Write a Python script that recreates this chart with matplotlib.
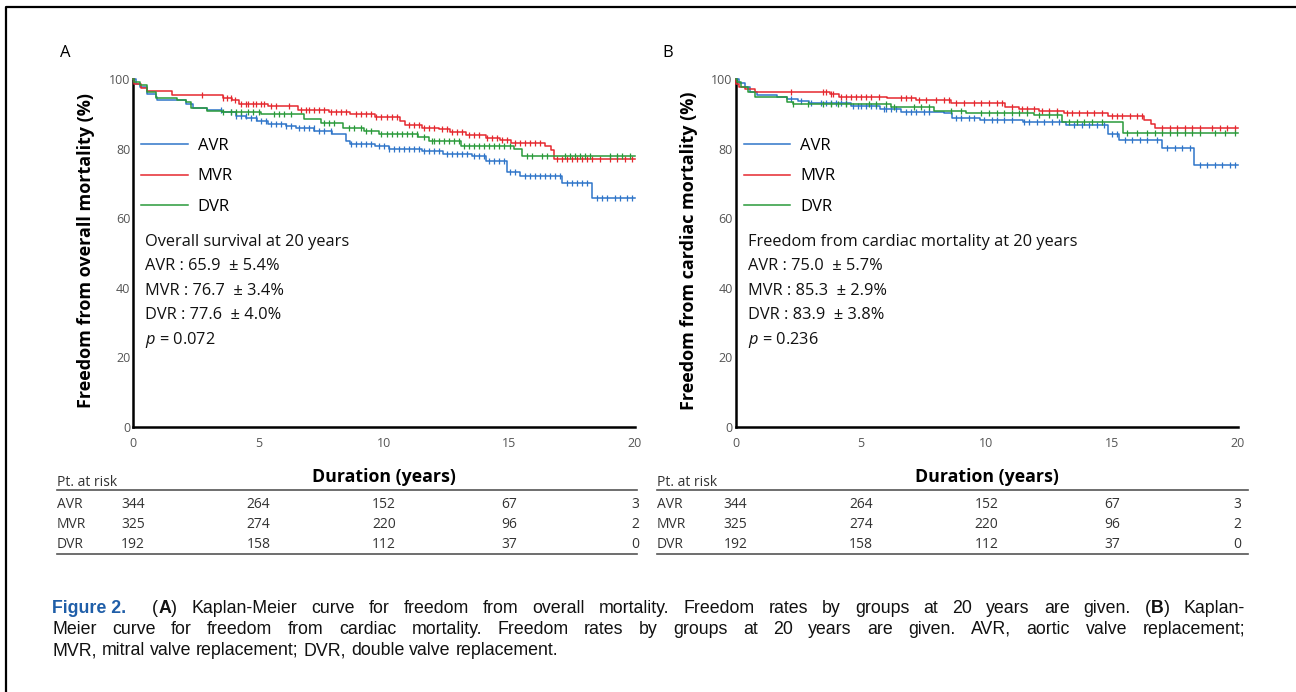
import matplotlib.pyplot as plt
import matplotlib.transforms as mtransforms
from matplotlib.lines import Line2D
import numpy as np

plt.rcParams['font.family'] = ['Open Sans', 'DejaVu Sans']
plt.rcParams['mathtext.fontset'] = 'custom'
plt.rcParams['mathtext.rm'] = 'Open Sans'
plt.rcParams['mathtext.it'] = 'Open Sans:italic'

W, H = 1296, 692

groups = ['AVR', 'MVR', 'DVR']
colors = ['#2f75c9', '#e5282f', '#2a9a3a']

# ---- panel A : freedom from overall mortality (step times in years, %) ----
a_avr_t = [0, 0.11, 0.26, 0.54, 0.9, 0.97, 2.1, 2.39, 2.96, 3.53, 4.1, 4.52, 4.95, 5.38, 6.09,
           6.51, 7.22, 7.94, 8.5, 8.65, 9.64, 10.2, 11.5, 12.35, 13.5, 14.05, 14.9, 15.4, 17.1, 18.3]
a_avr_s = [100, 98.7, 97.8, 95.8, 94.8, 93.9, 92.9, 91.7, 91.1, 90.4, 89.5, 88.8, 88.0, 87.2, 86.5,
           86.0, 85.1, 84.1, 82.1, 81.4, 80.7, 80.0, 79.2, 78.4, 77.8, 76.3, 73.4, 72.2, 70.1, 65.9]
a_avr_c = [3.5, 3.9, 4.1, 4.3, 4.5, 4.7, 4.9, 5.1, 5.3, 5.5, 5.7, 5.9, 6.1, 6.3, 6.6, 6.8, 7.0, 7.2,
           7.4, 7.6, 7.9, 8.7, 8.9, 9.1, 9.3, 9.5, 9.8, 10.0, 10.2, 10.4, 10.6, 10.8, 11.0, 11.2,
           11.4, 11.6, 11.8, 12.0, 12.2, 12.5, 12.7, 12.9, 13.1, 13.3, 13.6, 13.8, 14.0, 14.2, 14.4,
           14.6, 14.8, 15.0, 15.2, 15.6, 15.8, 16.0, 16.2, 16.4, 16.6, 16.8, 17.0, 17.3, 17.5, 17.7,
           17.9, 18.1, 18.5, 18.7, 18.9, 19.2, 19.4, 19.7, 19.9]

a_mvr_t = [0, 0.03, 0.3, 0.54, 1.54, 3.6, 3.95, 4.24, 5.38, 6.59, 7.8, 8.65, 9.64, 10.64, 10.85,
           11.5, 12.2, 12.63, 13.27, 14.05, 14.62, 15.05, 16.4, 16.64, 16.76]
a_mvr_s = [100, 98.5, 97.4, 96.6, 95.5, 94.6, 93.9, 92.9, 92.1, 91.2, 90.4, 90.0, 89.2, 88.0, 86.8,
           86.0, 85.6, 84.9, 83.9, 83.1, 82.4, 81.7, 80.7, 79.7, 76.9]
a_mvr_c = [2.75, 3.6, 3.75, 3.9, 4.05, 4.3, 4.5, 4.6, 4.8, 4.9, 5.1, 5.2, 5.5, 5.7, 6.2, 6.7, 6.9,
           7.0, 7.2, 7.4, 7.6, 7.9, 8.1, 8.3, 8.5, 8.9, 9.1, 9.3, 9.5, 9.7, 9.9, 10.1, 10.3, 10.5,
           11.0, 11.2, 11.4, 11.6, 11.8, 12.0, 12.3, 12.5, 12.7, 12.9, 13.1, 13.4, 13.6, 13.8, 14.1,
           14.3, 14.5, 14.7, 14.9, 15.2, 15.4, 15.6, 15.8, 16.0, 16.2, 16.9, 17.1, 17.3, 17.5, 17.7,
           17.9, 18.1, 18.3, 18.6, 19.0, 19.3, 19.6, 19.9]

a_dvr_t = [0, 0.05, 0.26, 0.54, 0.9, 1.75, 2.1, 2.32, 2.96, 3.53, 5.09, 6.8, 7.5, 8.36, 9.22, 9.79,
           11.35, 11.78, 13.06, 15.19, 15.48]
a_dvr_s = [100, 99.0, 98.2, 96.3, 94.6, 94.0, 93.3, 91.7, 90.9, 90.4, 89.8, 88.5, 87.5, 86.0, 85.1,
           84.3, 83.3, 82.1, 80.7, 80.0, 77.9]
a_dvr_c = [3.6, 3.9, 4.1, 4.3, 4.6, 4.8, 5.0, 5.6, 5.8, 6.0, 6.3, 7.6, 7.8, 8.0, 8.6, 8.8, 9.1, 9.3,
           9.5, 9.9, 10.1, 10.3, 10.5, 10.7, 10.9, 11.1, 11.3, 11.6, 11.9, 12.0, 12.2, 12.4, 12.6,
           12.8, 13.0, 13.2, 13.4, 13.6, 13.8, 14.0, 14.2, 14.4, 14.6, 14.8, 15.0, 15.7, 15.9, 16.3,
           16.5, 17.2, 17.4, 17.6, 17.8, 18.0, 18.2, 19.0, 19.3, 19.5, 19.8]

# ---- panel B : freedom from cardiac mortality ----
b_avr_t = [0, 0.14, 0.36, 0.57, 0.85, 1.64, 2.06, 2.49, 2.92, 4.62, 5.76, 6.61, 8.32, 8.61, 9.74,
           11.45, 13.16, 14.86, 15.29, 17.0, 18.28]
b_avr_s = [100, 98.8, 97.8, 96.3, 95.4, 94.7, 94.2, 93.8, 93.2, 92.2, 91.5, 90.6, 90.1, 88.9, 88.2,
           87.7, 86.7, 84.1, 82.6, 80.3, 75.3]
b_avr_c = [2.2, 2.6, 3.0, 3.4, 3.6, 3.8, 4.0, 4.2, 4.4, 4.7, 4.9, 5.0, 5.2, 5.4, 5.6, 5.9, 6.0, 6.2,
           6.4, 6.8, 7.0, 7.2, 7.5, 7.7, 8.8, 9.0, 9.3, 9.5, 9.9, 10.2, 10.4, 10.7, 11.0, 11.5, 11.7,
           12.0, 12.3, 12.6, 12.9, 13.5, 13.8, 14.1, 14.4, 14.7, 15.0, 15.2, 15.5, 15.8, 16.1, 16.4,
           16.8, 17.2, 17.5, 17.8, 18.1, 18.5, 18.8, 19.1, 19.4, 19.7, 19.9]

b_mvr_t = [0, 0.03, 0.14, 0.36, 0.78, 3.77, 4.13, 6.05, 7.18, 8.6, 10.74, 11.3, 12.09, 13.09, 14.86,
           16.29, 16.57, 16.71]
b_mvr_s = [100, 98.6, 97.8, 97.0, 96.3, 95.6, 94.9, 94.4, 93.9, 93.2, 92.0, 91.3, 90.8, 90.1, 89.3,
           88.2, 87.2, 86.0]
b_mvr_c = [2.2, 3.5, 3.6, 3.8, 3.9, 4.2, 4.4, 4.6, 4.8, 5.0, 5.2, 5.4, 5.7, 6.6, 6.8, 7.0, 7.3, 7.6,
           8.0, 8.3, 8.5, 8.8, 9.1, 9.5, 9.8, 10.1, 10.4, 10.6, 11.0, 11.4, 11.6, 11.9, 12.2, 12.5,
           12.8, 13.2, 13.4, 13.7, 14.0, 14.3, 14.6, 15.0, 15.2, 15.4, 15.7, 16.0, 16.2, 17.0, 17.3,
           17.6, 17.9, 18.2, 18.5, 19.0, 19.3, 19.6, 19.9]

b_dvr_t = [0, 0.05, 0.21, 0.5, 0.78, 2.06, 2.28, 6.19, 7.89, 9.17, 11.88, 13.02, 15.43]
b_dvr_s = [100, 99.0, 97.8, 96.3, 94.7, 93.5, 92.8, 92.0, 90.9, 90.3, 89.6, 87.7, 84.6]
b_dvr_c = [2.3, 2.9, 3.5, 3.8, 4.1, 4.4, 5.3, 5.6, 6.0, 6.3, 7.1, 7.4, 7.7, 8.6, 9.0, 9.8, 10.1,
           10.4, 10.7, 11.0, 11.3, 11.6, 12.1, 12.5, 12.8, 13.3, 13.6, 13.9, 14.2, 14.6, 15.6, 16.0,
           16.4, 16.7, 17.0, 17.3, 17.6, 17.9, 18.2, 18.5, 19.1, 19.5, 19.9]

a_title = 'Overall survival at 20 years'
a_rates = ['AVR : 65.9  \u00b1 5.4%', 'MVR : 76.7  \u00b1 3.4%', 'DVR : 77.6  \u00b1 4.0%']
a_p = '0.072'
b_title = 'Freedom from cardiac mortality at 20 years'
b_rates = ['AVR : 75.0  \u00b1 5.7%', 'MVR : 85.3  \u00b1 2.9%', 'DVR : 83.9  \u00b1 3.8%']
b_p = '0.236'

risk_times = [0, 5, 10, 15, 20]
risk_avr = [344, 264, 152, 67, 3]
risk_mvr = [325, 274, 220, 96, 2]
risk_dvr = [192, 158, 112, 37, 0]

caption = [
    '#Figure\u00a02.# ~ (*A*) Kaplan-Meier curve for freedom from overall mortality. Freedom rates by '
    'groups at 20 years are given. (*B*) Kaplan-',
    'Meier curve for freedom from cardiac mortality. Freedom rates by groups at 20 years are given. '
    'AVR, aortic valve replacement;',
    'MVR, mitral valve replacement; DVR, double valve replacement.',
]

fig = plt.figure(figsize=(W / 100, H / 100), dpi=100)
fig.patch.set_facecolor('white')


def px(x, y):
    return x / W, 1 - y / H


def draw_panel(left, curves, title, rates, pval, ylabel, letter):
    ax = fig.add_axes([left / W, 1 - 427 / H, 502 / W, 348 / H])
    handles = []
    for (t, s, c), g, col in zip(curves, groups, colors):
        t = np.asarray(t)
        s = np.asarray(s)
        ln, = ax.step(np.append(t, 20), np.append(s, s[-1]), where='post', color=col, lw=1.1,
                      label=g, clip_on=False, zorder=3)
        handles.append(ln)
        c = np.asarray(c)
        cy = s[np.searchsorted(t, c, side='right') - 1]
        ax.plot(c, cy, ls='none', marker='|', ms=5, mew=0.9, color=col, clip_on=False, zorder=3)
    ax.set_xlim(0, 20)
    ax.set_ylim(0, 100)
    ax.set_xticks(risk_times)
    ax.set_yticks([0, 20, 40, 60, 80, 100])
    for sp in ['top', 'right']:
        ax.spines[sp].set_visible(False)
    for sp in ['left', 'bottom']:
        ax.spines[sp].set_linewidth(1.8)
        ax.spines[sp].set_color('black')
    ax.tick_params(axis='both', length=0, labelsize=9, labelcolor='#555555')
    ax.tick_params(axis='x', pad=7)
    ax.tick_params(axis='y', pad=2)

    ax.legend(handles=handles, loc='center left', bbox_to_anchor=(0.016, 0.72), frameon=False,
              fontsize=12, handlelength=2.8, handletextpad=0.6, labelspacing=0.85,
              borderpad=0, borderaxespad=0)

    lines = [title] + rates + ['$p$ = ' + pval]
    for i, s in enumerate(lines):
        ax.text(0.024, 0.532 - 0.0705 * i, s, transform=ax.transAxes, ha='left', va='center',
                fontsize=11.8, color='#111111')

    ax.text(0.5, -0.144, 'Duration (years)', transform=ax.transAxes, ha='center', va='center',
            fontsize=12.8, fontweight='bold')
    fig.text(*px(left - 47, 251), ylabel, rotation=90, ha='center', va='center',
             fontsize=13, fontweight='bold')
    fig.text(*px(left - 68, 53), letter, ha='center', va='center', fontsize=12)
    return ax


def draw_table(ax, x_left, x_right):
    tr = mtransforms.blended_transform_factory(ax.transData, fig.transFigure)
    fig.text(*px(x_left, 482), 'Pt. at risk', ha='left', va='center', fontsize=10, color='#333333')
    for yy in (490, 554):
        fig.add_artist(Line2D([x_left / W, x_right / W], [1 - yy / H] * 2, color='#555555', lw=1.2))
    rows = [risk_avr, risk_mvr, risk_dvr]
    for g, vals, yy in zip(groups, rows, [504, 524, 544]):
        fig.text(*px(x_left, yy), g, ha='left', va='center', fontsize=10, color='#333333')
        for tm, n in zip(risk_times, vals):
            ax.text(tm, 1 - yy / H, str(n), transform=tr, ha='center', va='center', fontsize=10,
                    color='#333333')


ax_a = draw_panel(133, [(a_avr_t, a_avr_s, a_avr_c), (a_mvr_t, a_mvr_s, a_mvr_c),
                        (a_dvr_t, a_dvr_s, a_dvr_c)],
                  a_title, a_rates, a_p, 'Freedom from overall mortality (%)', 'A')
ax_b = draw_panel(735.5, [(b_avr_t, b_avr_s, b_avr_c), (b_mvr_t, b_mvr_s, b_mvr_c),
                          (b_dvr_t, b_dvr_s, b_dvr_c)],
                  b_title, b_rates, b_p, 'Freedom from cardiac mortality (%)', 'B')
draw_table(ax_a, 57, 637)
draw_table(ax_b, 657, 1248)

# border (left and top edges of the figure frame)
fig.add_artist(Line2D([6 / W, 6 / W, 1.0], [0, 1 - 7 / H, 1 - 7 / H], color='black', lw=1.6))

# caption, justified like the journal layout
cap_font = 'Liberation Sans'
cap_size = 12.8
cap_blue = '#1f5ea8'
renderer = fig.canvas.get_renderer()


def word_runs(word):
    out, buf, bold, blue = [], '', False, False
    for ch in word:
        if ch in '*#':
            if buf:
                out.append((buf, bold or blue, blue))
                buf = ''
            if ch == '*':
                bold = not bold
            else:
                blue = not blue
        else:
            buf += ch
    if buf:
        out.append((buf, bold or blue, blue))
    return out


space_w = fig.text(0, 0, 'a a', family=cap_font, fontsize=cap_size).get_window_extent(renderer).width - \
    fig.text(0, 0, 'aa', family=cap_font, fontsize=cap_size).get_window_extent(renderer).width
for t in fig.texts[-2:]:
    t.remove()

x0, x1 = 52, 1245
for li, line in enumerate(caption):
    yb = 613 + 21 * li
    words = line.split(' ')
    items = []
    for w in words:
        if w == '~':
            items.append(('gap', 12))
            continue
        parts = []
        for s, b, blue in word_runs(w):
            t = fig.text(0, 1 - yb / H, s, family=cap_font, fontsize=cap_size,
                         fontweight='bold' if b else 'normal',
                         color=cap_blue if blue else '#111111', va='baseline', ha='left')
            parts.append((t, t.get_window_extent(renderer).width))
        items.append(('word', parts))
    n_words = sum(1 for it in items if it[0] == 'word')
    fixed = sum(it[1] for it in items if it[0] == 'gap')
    total = sum(w for it in items if it[0] == 'word' for _, w in it[1])
    if li < len(caption) - 1:
        gap = (x1 - x0 - total - fixed) / (n_words - 1)
    else:
        gap = space_w
    x = x0
    first = True
    for it in items:
        if it[0] == 'gap':
            x += it[1]
            continue
        if not first:
            x += gap
        first = False
        for t, w in it[1]:
            t.set_x(x / W)
            x += w

fig.savefig('out.png', dpi=100, facecolor='white')
